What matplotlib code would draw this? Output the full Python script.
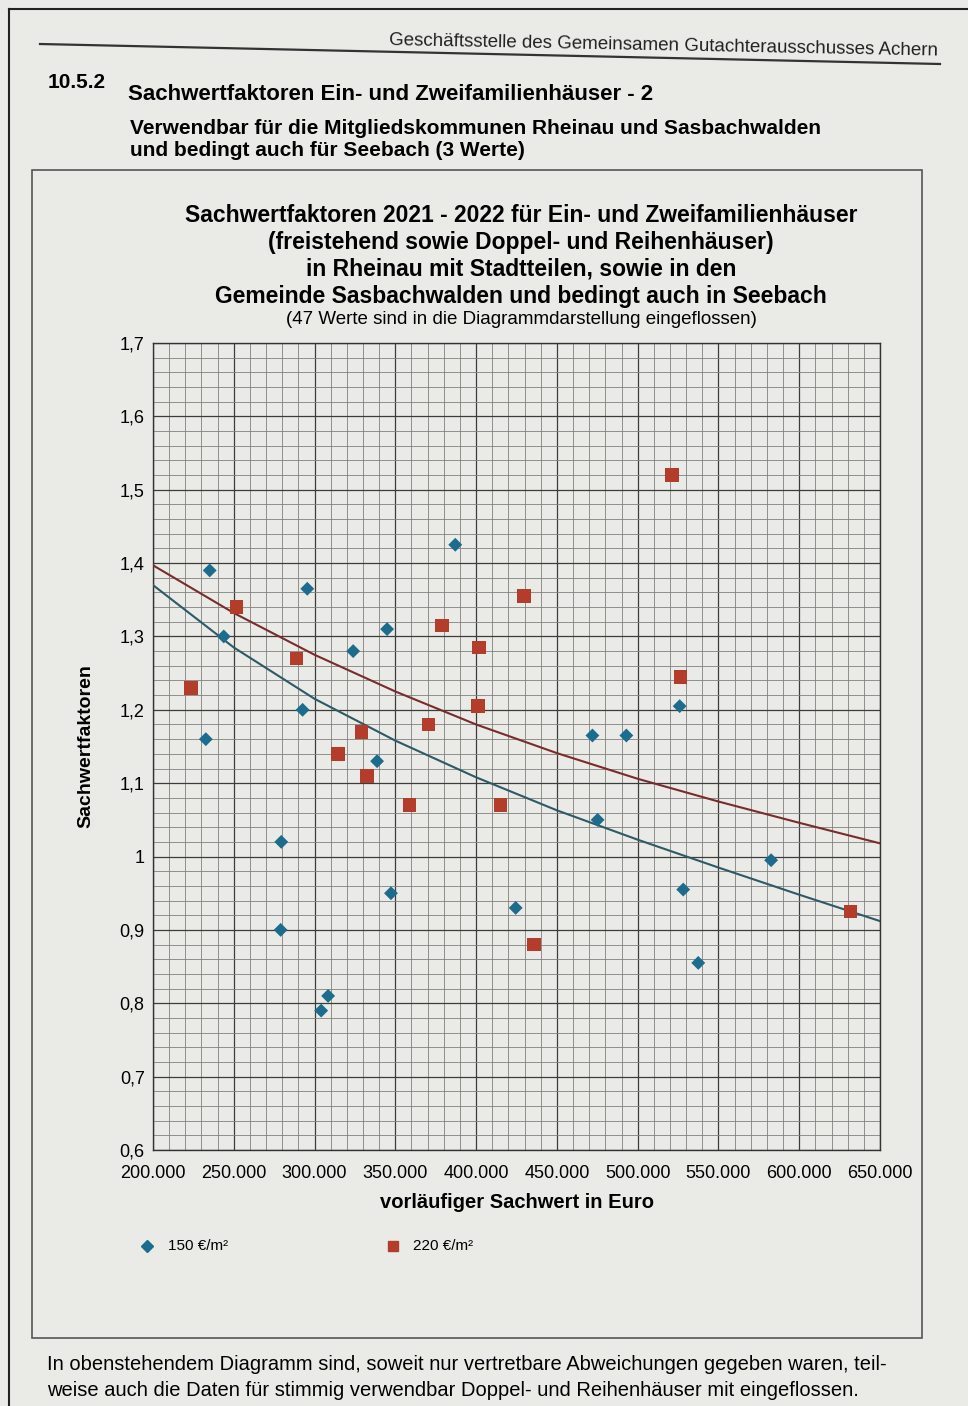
import matplotlib
matplotlib.use("Agg")
from matplotlib import pyplot as plt
from matplotlib.ticker import MultipleLocator, FuncFormatter
from matplotlib.lines import Line2D
from matplotlib.patches import Rectangle

# 150 €/m² (Bodenwert) - Raute
blue_x = [235100, 243800, 232700, 295500, 292600, 323900, 344900, 387100,
          338700, 279400, 279000, 347300, 308400, 304100, 424500, 472000,
          493000, 526000, 475200, 528200, 582600, 537500]
blue_y = [1.39, 1.30, 1.16, 1.365, 1.20, 1.28, 1.31, 1.425,
          1.13, 1.02, 0.90, 0.95, 0.81, 0.79, 0.93, 1.165,
          1.165, 1.205, 1.05, 0.955, 0.995, 0.855]

# 220 €/m² - Quadrat
red_x = [223500, 251800, 288900, 329200, 314500, 332500, 358700, 370600,
         378800, 401700, 401300, 429800, 415100, 435900, 521200, 526400,
         631600]
red_y = [1.23, 1.34, 1.27, 1.17, 1.14, 1.11, 1.07, 1.18,
         1.315, 1.285, 1.205, 1.355, 1.07, 0.88, 1.52, 1.245,
         0.925]

trend_x = [200000, 250000, 300000, 350000, 400000, 450000, 500000, 550000,
           600000, 650000]
trend_red = [1.397, 1.332, 1.275, 1.225, 1.18, 1.141, 1.106, 1.075, 1.046,
             1.018]
trend_blue = [1.37, 1.285, 1.215, 1.158, 1.108, 1.063, 1.023, 0.985, 0.948,
              0.912]

legend_labels = ["150 €/m²", "220 €/m²"]

PAGE = "#eaeae7"
BLUE = "#1c6c8d"
RED = "#b43c2b"
W, H = 968, 1406


def fx(px):
    return px / W


def fy(py):
    return 1 - py / H


def de_num(v, pos):
    # 200.000 style
    return "{:,.0f}".format(v).replace(",", ".")


def de_dec(v, pos):
    if abs(v - 1) < 1e-9:
        return "1"
    return "{:.1f}".format(v).replace(".", ",")


def main():
    plt.rcParams["font.family"] = ["Liberation Sans", "DejaVu Sans"]

    fig = plt.figure(figsize=(W / 100, H / 100), dpi=100, facecolor=PAGE)

    # Rand vom Foto
    fig.add_artist(Line2D([fx(9), fx(9)], [fy(9), fy(1406)], color="#222222", lw=1.5))
    fig.add_artist(Line2D([fx(9), fx(968)], [fy(9), fy(9)], color="#222222", lw=1.5))

    # Kopfzeile
    fig.add_artist(Line2D([fx(40), fx(940)], [fy(44), fy(64)], color="#333333",
                          lw=1.6))
    fig.text(fx(938), fy(56), "Geschäftsstelle des Gemeinsamen Gutachterausschusses Achern",
             ha="right", va="baseline", fontsize=13.5, color="#222222",
             rotation=-1.1, rotation_mode="anchor")

    fig.text(fx(48), fy(82), "10.5.2", ha="left", va="center", fontsize=15,
             weight="bold")
    fig.text(fx(128), fy(95), "Sachwertfaktoren Ein- und Zweifamilienhäuser - 2",
             ha="left", va="center", fontsize=16, weight="bold")
    fig.text(fx(130), fy(128), "Verwendbar für die Mitgliedskommunen Rheinau und Sasbachwalden",
             ha="left", va="center", fontsize=15, weight="bold")
    fig.text(fx(130), fy(150), "und bedingt auch für Seebach (3 Werte)",
             ha="left", va="center", fontsize=15, weight="bold")

    # Rahmen um das Diagramm
    fig.add_artist(Rectangle((fx(32), fy(1338)), fx(922) - fx(32), fy(170) - fy(1338),
                             fill=False, edgecolor="#555555", lw=1.2))

    # Diagrammtitel
    title_lines = ["Sachwertfaktoren 2021 - 2022 für Ein- und Zweifamilienhäuser",
                   "(freistehend sowie Doppel- und Reihenhäuser)",
                   "in Rheinau mit Stadtteilen, sowie in den",
                   "Gemeinde Sasbachwalden und bedingt auch in Seebach"]
    for i, line in enumerate(title_lines):
        fig.text(fx(521), fy(215 + i * 27), line, ha="center", va="center",
                 fontsize=16.5, weight="bold")
    fig.text(fx(521), fy(320), "(47 Werte sind in die Diagrammdarstellung eingeflossen)",
             ha="center", va="center", fontsize=13.5)

    ax = fig.add_axes([fx(153), fy(1150), fx(880) - fx(153), fy(343) - fy(1150)])
    ax.set_facecolor(PAGE)
    ax.set_xlim(200000, 650000)
    ax.set_ylim(0.6, 1.7)
    ax.xaxis.set_major_locator(MultipleLocator(50000))
    ax.xaxis.set_minor_locator(MultipleLocator(10000))
    ax.yaxis.set_major_locator(MultipleLocator(0.1))
    ax.yaxis.set_minor_locator(MultipleLocator(0.02))
    ax.xaxis.set_major_formatter(FuncFormatter(de_num))
    ax.yaxis.set_major_formatter(FuncFormatter(de_dec))
    ax.grid(which="major", color="#3c3c3c", lw=0.9)
    ax.grid(which="minor", color="#808080", lw=0.6)
    ax.set_axisbelow(True)
    ax.tick_params(which="both", length=0, labelsize=13, pad=6)
    ax.tick_params(axis="x", pad=11)
    for s in ax.spines.values():
        s.set_color("#333333")
        s.set_linewidth(1.0)

    ax.plot(trend_x, trend_red, color="#7a2c2c", lw=1.5, zorder=3)
    ax.plot(trend_x, trend_blue, color="#2d5a66", lw=1.5, zorder=3)

    ax.scatter(blue_x, blue_y, marker="D", s=50, color=BLUE,
               edgecolors="none", zorder=4)
    ax.scatter(red_x, red_y, marker="s", s=95, color=RED,
               edgecolors="none", zorder=4)

    ax.set_ylabel("Sachwertfaktoren", fontsize=14, weight="bold", labelpad=18)
    ax.set_xlabel("vorläufiger Sachwert in Euro", fontsize=14.5, weight="bold",
                  labelpad=8)

    # Legende unten
    fig.add_artist(Line2D([fx(147)], [fy(1246)], marker="D", markersize=6,
                          color=BLUE, linestyle="none"))
    fig.text(fx(168), fy(1246), legend_labels[0], ha="left", va="center",
             fontsize=11)
    fig.add_artist(Line2D([fx(393)], [fy(1246)], marker="s", markersize=7,
                          color=RED, linestyle="none"))
    fig.text(fx(413), fy(1246), legend_labels[1], ha="left", va="center",
             fontsize=11)

    # Fußnote
    fig.text(fx(47), fy(1365), "In obenstehendem Diagramm sind, soweit nur vertretbare Abweichungen gegeben waren, teil-",
             ha="left", va="center", fontsize=14.5)
    fig.text(fx(47), fy(1390), "weise auch die Daten für stimmig verwendbar Doppel- und Reihenhäuser mit eingeflossen.",
             ha="left", va="center", fontsize=14.5)

    fig.savefig("out.png", dpi=100, facecolor=PAGE)


if __name__ == "__main__":
    main()
